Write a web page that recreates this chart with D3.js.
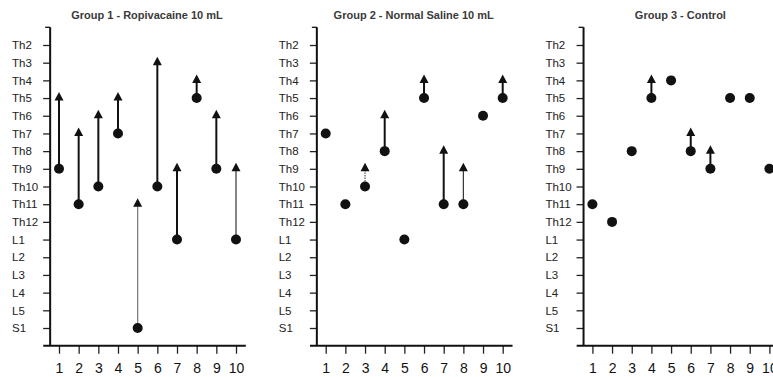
<!DOCTYPE html>
<html>
<head>
<meta charset="utf-8">
<script src="https://cdn.jsdelivr.net/npm/d3@7"></script>
<style>
  body { margin: 0; background: #fff; }
  svg { display: block; font-family: Arial, "Liberation Sans", sans-serif; }
</style>
</head>
<body>
<svg id="chart" width="773" height="377"></svg>
<script>
// dermatome levels, top to bottom
const levels = ["Th2","Th3","Th4","Th5","Th6","Th7","Th8","Th9","Th10","Th11","Th12","L1","L2","L3","L4","L5","S1"];
const patients = [1,2,3,4,5,6,7,8,9,10];

const titles = ["Group 1 - Ropivacaine 10 mL", "Group 2 - Normal Saline 10 mL", "Group 3 - Control"];

// level at first test (dot) and highest level reached later (arrow head), null = no change
const group1Start = ["Th9","Th11","Th10","Th7","S1","Th10","L1","Th5","Th9","L1"];
const group1End   = ["Th5","Th7","Th6","Th5","Th11","Th3","Th9","Th4","Th6","Th9"];
const group2Start = ["Th7","Th11","Th10","Th8","L1","Th5","Th11","Th11","Th6","Th5"];
const group2End   = [null,null,"Th9","Th6",null,"Th4","Th8","Th9",null,"Th4"];
const group3Start = ["Th11","Th12","Th8","Th5","Th4","Th8","Th9","Th5","Th5","Th9"];
const group3End   = [null,null,null,"Th4",null,"Th7","Th8",null,null,null];

const starts = [group1Start, group2Start, group3Start];
const ends = [group1End, group2End, group3End];

// a few connectors are drawn lighter in the original
const lineStyle = {"0-4": {w: 1.2, c: "#777"}, "0-9": {w: 1.2, c: "#333"}, "1-7": {w: 1.2, c: "#333"}, "1-2": {w: 1.2, c: "#555", dash: "1.5,1"}};

const panelW = 266.7;
const svg = d3.select("#chart");

const x = d3.scaleLinear().domain([1, 10]).range([59, 236]);
const y = d3.scalePoint().domain(levels).range([45, 328]);
const step = y.step();

for (let g = 0; g < 3; g++) {
  const p = svg.append("g").attr("transform", `translate(${g * panelW},0)`);

  p.append("text")
    .attr("x", 147).attr("y", 19)
    .attr("text-anchor", "middle")
    .attr("font-size", 11)
    .attr("font-weight", "bold")
    .attr("fill", "#3a3a3a")
    .text(titles[g]);

  const axisX = x(0.55);

  // y axis
  const ya = p.append("g")
    .attr("transform", `translate(${axisX},0)`)
    .call(d3.axisLeft(y).tickSize(7).tickSizeOuter(0));
  ya.select(".domain").remove();
  ya.selectAll(".tick line").attr("stroke", "#222").attr("stroke-width", 1.3);
  ya.selectAll(".tick text")
    .attr("text-anchor", "start")
    .attr("x", 12 - axisX)
    .attr("font-size", 11.5)
    .attr("font-family", "Arial, 'Liberation Sans', sans-serif")
    .attr("fill", "#222");
  p.append("line")
    .attr("x1", axisX).attr("x2", axisX)
    .attr("y1", y("Th2") - step).attr("y2", y("S1") + step)
    .attr("stroke", "#111").attr("stroke-width", 2);
  p.append("line")
    .attr("x1", axisX - 5).attr("x2", axisX)
    .attr("y1", y("Th2") - step).attr("y2", y("Th2") - step)
    .attr("stroke", "#111").attr("stroke-width", 1.3);

  // x axis
  const baseY = y("S1") + step;
  const xa = p.append("g")
    .attr("transform", `translate(0,${baseY})`)
    .call(d3.axisBottom(x).tickValues(patients).tickFormat(d3.format("d")).tickSize(8).tickPadding(9).tickSizeOuter(0));
  xa.select(".domain").remove();
  xa.selectAll(".tick line").attr("stroke", "#222").attr("stroke-width", 1.3);
  xa.selectAll(".tick text")
    .attr("font-size", 14)
    .attr("font-family", "Arial, 'Liberation Sans', sans-serif")
    .attr("fill", "#111");
  p.append("line")
    .attr("x1", x(0.2)).attr("x2", x(10.5))
    .attr("y1", baseY).attr("y2", baseY)
    .attr("stroke", "#111").attr("stroke-width", 2);

  const rows = patients.map((d, i) => ({id: d, i: i, s: starts[g][i], e: ends[g][i]}));
  const moved = rows.filter(d => d.e);

  p.append("g").selectAll("line")
    .data(moved)
    .join("line")
    .attr("x1", d => x(d.id)).attr("x2", d => x(d.id))
    .attr("y1", d => y(d.s)).attr("y2", d => y(d.e) + 2)
    .attr("stroke", d => (lineStyle[g + "-" + d.i] || {c: "#111"}).c)
    .attr("stroke-width", d => (lineStyle[g + "-" + d.i] || {w: 2}).w)
    .attr("stroke-dasharray", d => (lineStyle[g + "-" + d.i] || {}).dash || null);

  p.append("g").selectAll("path")
    .data(moved)
    .join("path")
    .attr("d", d => {
      const cx = x(d.id), cy = y(d.e);
      return `M${cx},${cy - 6}L${cx + 4.5},${cy + 2.5}L${cx - 4.5},${cy + 2.5}Z`;
    })
    .attr("fill", "#111");

  p.append("g").selectAll("circle")
    .data(rows)
    .join("circle")
    .attr("cx", d => x(d.id))
    .attr("cy", d => y(d.s))
    .attr("r", 5)
    .attr("fill", "#111");
}
</script>
</body>
</html>
